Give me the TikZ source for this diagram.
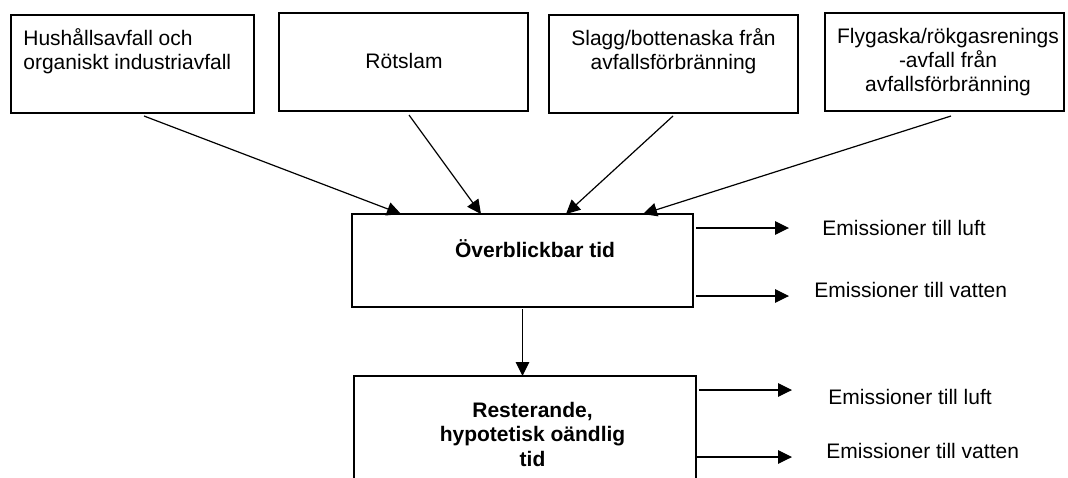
\documentclass[tikz,border=0pt]{standalone}
\usepackage{fontspec}
\setmainfont{Liberation Sans}
\usetikzlibrary{arrows.meta,calc}

\tikzset{
  box/.style={draw, rectangle, line width=0.6pt, inner sep=0pt, outer sep=0pt},
  txt/.style={inner sep=0pt, font=\fontsize{10.5pt}{12pt}\selectfont},
  btxt/.style={inner sep=0pt, font=\fontsize{10.5pt}{12.25pt}\selectfont\bfseries},
  arr/.style={line width=0.6pt, -{Triangle[length=7pt,width=6.8pt]}}
}

\begin{document}
\begin{tikzpicture}[x=0.5pt, y=-0.5pt]
  \useasboundingbox (0,0) rectangle (1068,477);
  \clip (0,0) rectangle (1068,477);

  % source boxes
  \node[box, minimum width=121.5pt, minimum height=49pt] (b1) at (132.5,64) {};
  \node[box, minimum width=124.5pt, minimum height=49pt] (b2) at (403.5,62) {};
  \node[box, minimum width=124.5pt, minimum height=49pt] (b3) at (673.5,64) {};
  \node[box, minimum width=119.5pt, minimum height=49pt] (b4) at (944.5,62) {};

  % multi-line texts are placed by the baseline of their last line
  \node[txt, anchor=base west, align=left] (t1) at (23,69)
    {Hushållsavfall och\\organiskt industriavfall};
  \node[txt, anchor=base] (t2) at (404,68) {Rötslam};
  \node[txt, anchor=base, align=center] (t3) at (673.5,69)
    {Slagg/bottenaska från\\avfallsförbränning};
  \node[txt, anchor=base, align=center] (t4) at (948,91)
    {Flygaska/rökgasrenings\\-avfall från\\avfallsförbränning};

  % time periods
  \node[box, minimum width=170.5pt, minimum height=46.5pt] (m1) at (522.5,260.5) {};
  \node[box, minimum width=171pt, minimum height=82pt] (m2) at (525,458) {};

  \node[btxt, anchor=base] (mt1) at (535,257) {Överblickbar tid};
  \node[btxt, anchor=base, align=center] (mt2) at (532.5,466)
    {Resterande,\\hypotetisk oändlig\\tid};

  % inflows
  \draw[arr] ($(b1.south west)+(133,3)$) -- ($(m1.north west)+(49,0)$);
  \draw[arr] ($(b2.south west)+(130,4)$) -- ($(m1.north west)+(129,0)$);
  \draw[arr] ($(b3.south west)+(124,3)$) -- ($(m1.north west)+(214,0)$);
  \draw[arr] ($(b4.south west)+(126,5)$) -- ($(m1.north west)+(291,0)$);

  % transfer to the remaining time
  \draw[arr] ($(m1.south)+(0,2)$) -- (m1.south |- m2.north);

  % emissions
  \coordinate (e1) at (789,228);
  \coordinate (e2) at (789,296);
  \coordinate (e3) at (792,390);
  \coordinate (e4) at (792,457);
  \draw[arr] ($(m1.north east)+(3,14)$) -- (e1);
  \draw[arr] ($(m1.south east)+(3,-11)$) -- (e2);
  \draw[arr] ($(m2.north east)+(3,14)$) -- (e3);
  \draw[arr] ($(m2.north east)+(1,81)$) -- (e4);

  \node[txt, anchor=base west] (l1) at (822,235) {Emissioner till luft};
  \node[txt, anchor=base west] (l2) at (814,297) {Emissioner till vatten};
  \node[txt, anchor=base west] (l3) at (828,404) {Emissioner till luft};
  \node[txt, anchor=base west] (l4) at (826,458) {Emissioner till vatten};
\end{tikzpicture}
\end{document}
